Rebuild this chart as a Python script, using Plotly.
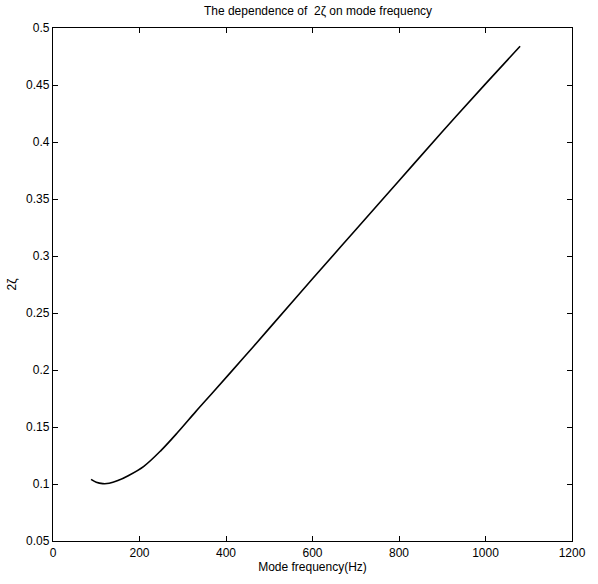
import plotly.graph_objects as go

# Data
freq_hz = [88, 100, 115, 130, 150, 175, 210, 250, 290, 330, 370, 440, 500, 600, 700, 800, 900, 1000, 1080]
two_zeta = [0.1040, 0.1015, 0.1003, 0.1006, 0.1030, 0.1075, 0.1155, 0.1295, 0.1460, 0.1635, 0.1805, 0.2105, 0.2365, 0.2800, 0.3230, 0.3660, 0.4090, 0.4510, 0.4840]

x_ticks = [0, 200, 400, 600, 800, 1000, 1200]
y_ticks = [0.05, 0.1, 0.15, 0.2, 0.25, 0.3, 0.35, 0.4, 0.45, 0.5]
y_labels = ["0.05", "0.1", "0.15", "0.2", "0.25", "0.3", "0.35", "0.4", "0.45", "0.5"]

fig = go.Figure()
fig.add_trace(go.Scatter(
    x=freq_hz, y=two_zeta, mode="lines",
    line=dict(color="black", width=1.6, shape="spline", smoothing=1.0),
    showlegend=False,
))

font = dict(family="Liberation Sans Narrow, Liberation Sans, Arial, sans-serif", size=12, color="black")

fig.update_layout(
    width=598, height=584,
    margin=dict(l=53, r=15, t=28, b=43),
    paper_bgcolor="white", plot_bgcolor="white",
    font=font,
    title=dict(text="The dependence of  2ζ on mode frequency", x=(53 + 583) / 2 / 598, xanchor="center",
               y=1 - 11 / 584, yanchor="middle", font=dict(size=12)),
)
fig.update_xaxes(
    range=[0, 1200], tickvals=x_ticks, ticks="inside", ticklen=5, tickcolor="black",
    showline=True, linecolor="black", linewidth=1.3, mirror="ticks", showgrid=False, zeroline=False,
    tickfont=dict(size=12),
    title=dict(text="Mode frequency(Hz)", standoff=3, font=dict(size=12)),
)
fig.update_yaxes(
    range=[0.05, 0.5], tickvals=y_ticks, ticktext=y_labels, ticks="inside", ticklen=5, tickcolor="black",
    showline=True, linecolor="black", linewidth=1.3, mirror="ticks", showgrid=False, zeroline=False,
    tickfont=dict(size=12),
    title=dict(text="2ζ", standoff=6, font=dict(size=12)),
)

fig.write_html("out.html")
